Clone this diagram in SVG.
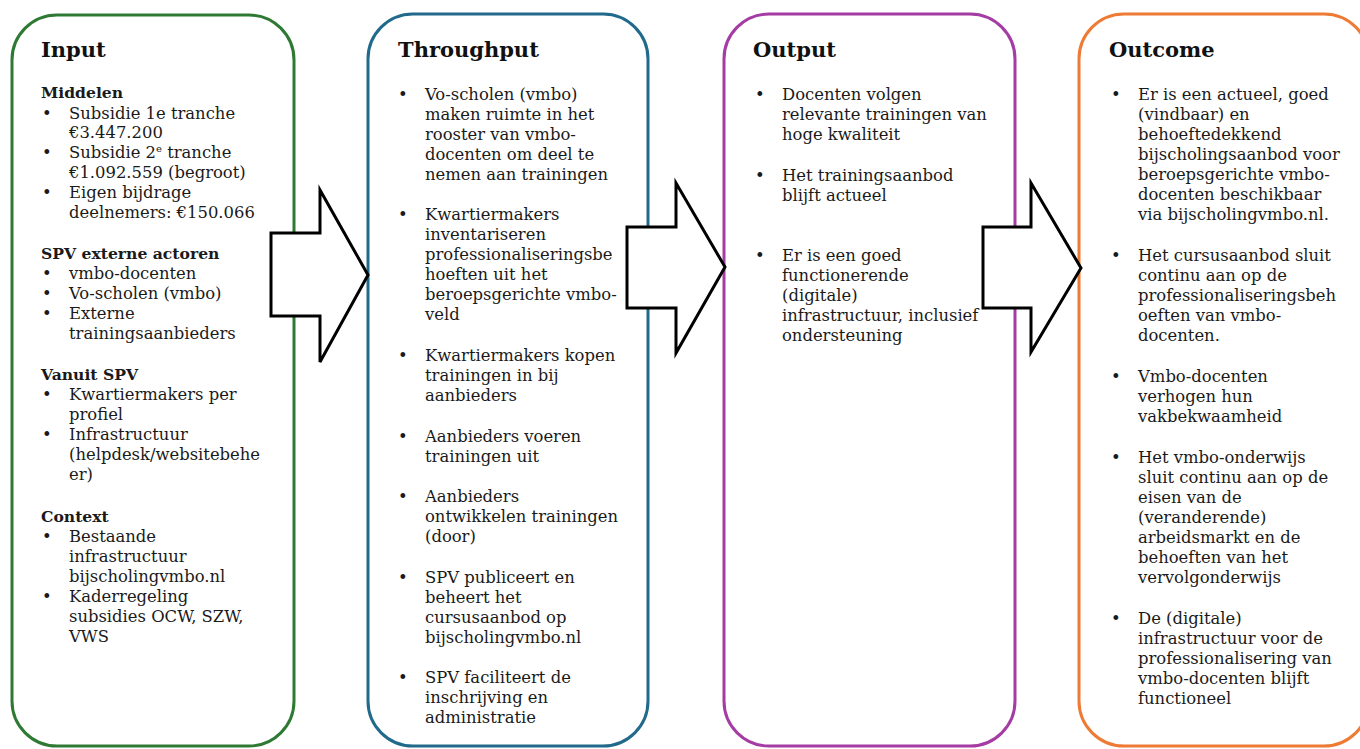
<svg xmlns="http://www.w3.org/2000/svg" width="1360" height="749" viewBox="0 0 1360 749">
<style>
.box{fill:#ffffff;stroke-width:3}
.t{font-family:"DejaVu Serif","Liberation Serif",serif;font-size:16.4px;fill:#1a1a1a}
.h{font-family:"DejaVu Serif","Liberation Serif",serif;font-size:15.6px;font-weight:bold;fill:#1a1a1a}
.title{font-family:"DejaVu Serif","Liberation Serif",serif;font-size:21px;font-weight:bold;fill:#111111}
.arrow{fill:#ffffff;stroke:#000000;stroke-width:3;stroke-linejoin:miter}
</style>
<rect width="1360" height="749" fill="#ffffff"/>

<g id="input">
<rect class="box" x="12" y="15" width="282" height="731" rx="45" ry="45" stroke="#2e7a34"/>
<text class="title" x="41" y="57">Input</text>
<text class="h" x="41" y="98">Middelen</text>
<g class="t">
<text x="42" y="119">•</text><text x="69" y="119">Subsidie 1e tranche</text>
<text x="69" y="138">€3.447.200</text>
<text x="42" y="158">•</text><text x="69" y="158">Subsidie 2<tspan font-size="10" dy="-6">e</tspan><tspan dy="6"> tranche</tspan></text>
<text x="69" y="178">€1.092.559 (begroot)</text>
<text x="42" y="198">•</text><text x="69" y="198">Eigen bijdrage</text>
<text x="69" y="218">deelnemers: €150.066</text>
</g>
<text class="h" x="41" y="259">SPV externe actoren</text>
<g class="t">
<text x="42" y="279">•</text><text x="69" y="279">vmbo-docenten</text>
<text x="42" y="299">•</text><text x="69" y="299">Vo-scholen (vmbo)</text>
<text x="42" y="319">•</text><text x="69" y="319">Externe</text>
<text x="69" y="339">trainingsaanbieders</text>
</g>
<text class="h" x="41" y="380">Vanuit SPV</text>
<g class="t">
<text x="42" y="400">•</text><text x="69" y="400">Kwartiermakers per</text>
<text x="69" y="420">profiel</text>
<text x="42" y="440">•</text><text x="69" y="440">Infrastructuur</text>
<text x="69" y="460">(helpdesk/websitebehe</text>
<text x="69" y="480">er)</text>
</g>
<text class="h" x="41" y="522">Context</text>
<g class="t">
<text x="42" y="542">•</text><text x="69" y="542">Bestaande</text>
<text x="69" y="562">infrastructuur</text>
<text x="69" y="582">bijscholingvmbo.nl</text>
<text x="42" y="602">•</text><text x="69" y="602">Kaderregeling</text>
<text x="69" y="622">subsidies OCW, SZW,</text>
<text x="69" y="642">VWS</text>
</g>
</g>

<g id="throughput">
<rect class="box" x="368" y="14" width="280" height="732" rx="45" ry="45" stroke="#226a8c"/>
<text class="title" x="398" y="57">Throughput</text>
<g class="t">
<text x="398" y="100">•</text><text x="425" y="100">Vo-scholen (vmbo)</text>
<text x="425" y="120">maken ruimte in het</text>
<text x="425" y="140">rooster van vmbo-</text>
<text x="425" y="160">docenten om deel te</text>
<text x="425" y="180">nemen aan trainingen</text>
<text x="398" y="220">•</text><text x="425" y="220">Kwartiermakers</text>
<text x="425" y="240">inventariseren</text>
<text x="425" y="260">professionaliseringsbe</text>
<text x="425" y="280">hoeften uit het</text>
<text x="425" y="300">beroepsgerichte vmbo-</text>
<text x="425" y="320">veld</text>
<text x="398" y="361">•</text><text x="425" y="361">Kwartiermakers kopen</text>
<text x="425" y="381">trainingen in bij</text>
<text x="425" y="401">aanbieders</text>
<text x="398" y="442">•</text><text x="425" y="442">Aanbieders voeren</text>
<text x="425" y="462">trainingen uit</text>
<text x="398" y="502">•</text><text x="425" y="502">Aanbieders</text>
<text x="425" y="522">ontwikkelen trainingen</text>
<text x="425" y="542">(door)</text>
<text x="398" y="583">•</text><text x="425" y="583">SPV publiceert en</text>
<text x="425" y="603">beheert het</text>
<text x="425" y="623">cursusaanbod op</text>
<text x="425" y="643">bijscholingvmbo.nl</text>
<text x="398" y="683">•</text><text x="425" y="683">SPV faciliteert de</text>
<text x="425" y="703">inschrijving en</text>
<text x="425" y="723">administratie</text>
</g>
</g>

<g id="output">
<rect class="box" x="724" y="14" width="291" height="732" rx="45" ry="45" stroke="#a43ca4"/>
<text class="title" x="753" y="57">Output</text>
<g class="t">
<text x="755" y="100">•</text><text x="782" y="100">Docenten volgen</text>
<text x="782" y="120">relevante trainingen van</text>
<text x="782" y="140">hoge kwaliteit</text>
<text x="755" y="181">•</text><text x="782" y="181">Het trainingsaanbod</text>
<text x="782" y="201">blijft actueel</text>
<text x="755" y="261">•</text><text x="782" y="261">Er is een goed</text>
<text x="782" y="281">functionerende</text>
<text x="782" y="301">(digitale)</text>
<text x="782" y="321">infrastructuur, inclusief</text>
<text x="782" y="341">ondersteuning</text>
</g>
</g>

<g id="outcome">
<rect class="box" x="1079" y="14" width="290" height="732" rx="45" ry="45" stroke="#ee7b35"/>
<text class="title" x="1109" y="57">Outcome</text>
<g class="t">
<text x="1111" y="100">•</text><text x="1138" y="100">Er is een actueel, goed</text>
<text x="1138" y="120">(vindbaar) en</text>
<text x="1138" y="140">behoeftedekkend</text>
<text x="1138" y="160">bijscholingsaanbod voor</text>
<text x="1138" y="180">beroepsgerichte vmbo-</text>
<text x="1138" y="200">docenten beschikbaar</text>
<text x="1138" y="220">via bijscholingvmbo.nl.</text>
<text x="1111" y="261">•</text><text x="1138" y="261">Het cursusaanbod sluit</text>
<text x="1138" y="281">continu aan op de</text>
<text x="1138" y="301">professionaliseringsbeh</text>
<text x="1138" y="321">oeften van vmbo-</text>
<text x="1138" y="341">docenten.</text>
<text x="1111" y="382">•</text><text x="1138" y="382">Vmbo-docenten</text>
<text x="1138" y="402">verhogen hun</text>
<text x="1138" y="422">vakbekwaamheid</text>
<text x="1111" y="463">•</text><text x="1138" y="463">Het vmbo-onderwijs</text>
<text x="1138" y="483">sluit continu aan op de</text>
<text x="1138" y="503">eisen van de</text>
<text x="1138" y="523">(veranderende)</text>
<text x="1138" y="543">arbeidsmarkt en de</text>
<text x="1138" y="563">behoeften van het</text>
<text x="1138" y="583">vervolgonderwijs</text>
<text x="1111" y="624">•</text><text x="1138" y="624">De (digitale)</text>
<text x="1138" y="644">infrastructuur voor de</text>
<text x="1138" y="664">professionalisering van</text>
<text x="1138" y="684">vmbo-docenten blijft</text>
<text x="1138" y="704">functioneel</text>
</g>
</g>

<g id="connectors">
<polygon class="arrow" points="271,233 320,233 320,190 368,275 320,362 320,316 271,316"/>
<polygon class="arrow" points="627,227 676,227 676,183 725,267 676,353 676,308 627,308"/>
<polygon class="arrow" points="983,227 1031,227 1031,183 1081,268 1031,352 1031,308 983,308"/>
</g>
</svg>
